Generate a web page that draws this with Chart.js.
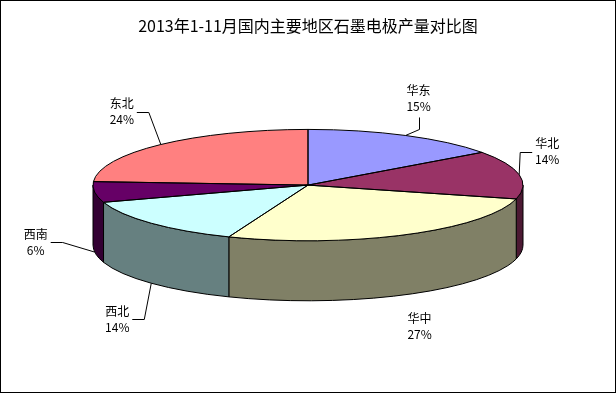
<!DOCTYPE html>
<html>
<head>
<meta charset="utf-8">
<script src="https://cdn.jsdelivr.net/npm/chart.js@4.4.1/dist/chart.umd.min.js"></script>
<style>
  body { margin: 0; background: #fff; }
  #wrap { width: 616px; height: 393px; position: relative; }
</style>
</head>
<body>
<div id="wrap"><canvas id="pie"></canvas></div>
<script>
// data
const regions = ["华东", "华北", "华中", "西北", "西南", "东北"];
const shares = [15, 14, 27, 14, 6, 24];
const topColors = ["#9999FF", "#993366", "#FFFFCC", "#CCFFFF", "#660066", "#FF8080"];
const sideColors = ["#4C4C80", "#4C1933", "#808066", "#668080", "#330033", "#804040"];

// where each label sits relative to its rim anchor: [dx, dy, leader]
const labelSpots = [
  [13, -37, "v"],
  [28, -23, "h"],
  [14, 32, null],
  [-34, 36, "h"],
  [-59, -10, "h"],
  [-39, -33, "h"],
];

const tilt = 0.259;   // squash of the pie top
const depth = 60;     // thickness of the pie in px
const labelFont = "12px 'Noto Sans CJK SC', sans-serif";

function norm(a) {
  let t = a % (2 * Math.PI);
  if (t < 0) t += 2 * Math.PI;
  return t;
}

// draws the pie as a tilted disc: sides first, then squashed top
const pie3d = {
  id: "pie3d",
  beforeDatasetsDraw(chart) {
    const ctx = chart.ctx;
    const arcs = chart.getDatasetMeta(0).data;
    const cx = arcs[0].x, cy = arcs[0].y;

    ctx.save();
    ctx.lineWidth = 1;
    ctx.strokeStyle = "#000";
    arcs.forEach((arc, i) => {
      const r = arc.outerRadius;
      const s = norm(arc.startAngle);
      const e = s + (arc.endAngle - arc.startAngle);
      // only the front half of the rim is visible
      [[0, Math.PI], [2 * Math.PI, 3 * Math.PI]].forEach(([lo, hi]) => {
        const a = Math.max(s, lo), b = Math.min(e, hi);
        if (b <= a) return;
        ctx.beginPath();
        ctx.ellipse(cx, cy, r, r * tilt, 0, a, b);
        ctx.lineTo(cx + r * Math.cos(b), cy + depth + r * tilt * Math.sin(b));
        ctx.ellipse(cx, cy + depth, r, r * tilt, 0, b, a, true);
        ctx.closePath();
        ctx.fillStyle = sideColors[i];
        ctx.fill();
        ctx.stroke();
      });
    });
    ctx.restore();

    // squash the top for the library's own arc drawing
    ctx.save();
    ctx.translate(cx, cy);
    ctx.scale(1, tilt);
    ctx.translate(-cx, -cy);
  },
  afterDatasetsDraw(chart) {
    const ctx = chart.ctx;
    ctx.restore();
    const arcs = chart.getDatasetMeta(0).data;
    const cx = arcs[0].x, cy = arcs[0].y;

    // slice outlines, kept at 1px
    ctx.save();
    ctx.lineWidth = 1;
    ctx.strokeStyle = "#000";
    arcs.forEach((arc) => {
      const r = arc.outerRadius;
      ctx.beginPath();
      ctx.moveTo(cx, cy);
      ctx.ellipse(cx, cy, r, r * tilt, 0, arc.startAngle, arc.endAngle);
      ctx.closePath();
      ctx.stroke();
    });

    // labels with leader lines
    ctx.font = labelFont;
    ctx.fillStyle = "#000";
    ctx.textAlign = "center";
    ctx.textBaseline = "middle";
    arcs.forEach((arc, i) => {
      const r = arc.outerRadius;
      const m = (arc.startAngle + arc.endAngle) / 2;
      const front = Math.sin(m) > 0;
      const ax = cx + r * Math.cos(m);
      const ay = cy + r * tilt * Math.sin(m) + (front ? depth : 0);
      const [dx, dy, leader] = labelSpots[i];
      const lx = ax + dx, ly = ay + dy;
      const pct = Math.round(shares[i] / shares.reduce((p, q) => p + q, 0) * 100) + "%";
      ctx.fillText(regions[i], lx, ly - 8);
      ctx.fillText(pct, lx, ly + 8);

      if (!leader) return;
      ctx.beginPath();
      if (leader === "v") {
        ctx.moveTo(Math.round(lx) + 0.5, ly + 19);
        ctx.lineTo(Math.round(lx) + 0.5, ly + 31);
      } else {
        const w = ctx.measureText(regions[i]).width;
        const side = lx < ax ? 1 : -1;
        const sx = lx + side * (w / 2 + 3);
        ctx.moveTo(sx, Math.round(ly) + 0.5);
        ctx.lineTo(sx + side * 12, Math.round(ly) + 0.5);
      }
      ctx.lineTo(ax, ay);
      ctx.stroke();
    });
    ctx.restore();
  },
  afterDraw(chart) {
    const ctx = chart.ctx;
    ctx.save();
    ctx.strokeStyle = "#000";
    ctx.lineWidth = 1;
    ctx.strokeRect(0.5, 0.5, chart.width - 1, chart.height - 1);
    ctx.restore();
  },
};

new Chart(document.getElementById("pie"), {
  type: "pie",
  data: {
    labels: regions,
    datasets: [{
      data: shares,
      backgroundColor: topColors,
      borderWidth: 0,
      radius: 215,
      clip: false,
    }],
  },
  options: {
    responsive: true,
    maintainAspectRatio: false,
    animation: false,
    events: [],
    layout: { padding: { top: 0, bottom: 58, left: 0, right: 0 } },
    plugins: {
      legend: { display: false },
      tooltip: { enabled: false },
      title: {
        display: true,
        text: "2013年1-11月国内主要地区石墨电极产量对比图",
        color: "#000",
        font: { family: "'Noto Sans CJK SC', sans-serif", size: 16, weight: "normal" },
        padding: { top: 16, bottom: 0 },
      },
    },
  },
  plugins: [pie3d],
});
</script>
</body>
</html>
